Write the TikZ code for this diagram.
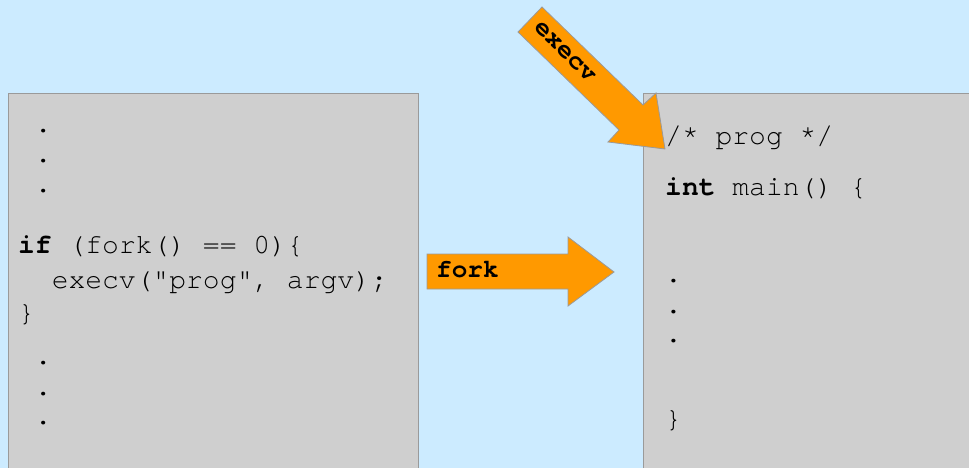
\documentclass[tikz,border=0pt]{standalone}
\usepackage{fontspec}
\setmonofont{texgyrecursor}[Extension=.otf,UprightFont=*-regular,BoldFont=*-bold]
\begin{document}
\definecolor{sky}{HTML}{CCEBFF}
\definecolor{panel}{HTML}{CFCFCF}
\definecolor{edge}{HTML}{9A9A9A}
\definecolor{arrowfill}{HTML}{FF9900}
\begin{tikzpicture}[x=1pt,y=-1pt,
  codebox/.style={fill=panel,draw=edge,line width=0.8pt},
  bigarrow/.style={fill=arrowfill,draw=edge,line width=0.8pt,line join=miter},
  code/.style={anchor=base west,inner sep=0pt,font=\ttfamily\fontsize{28}{30}\selectfont},
  tag/.style={inner sep=0pt,font=\ttfamily\bfseries\fontsize{26}{28}\selectfont}]
  \useasboundingbox (0,0) rectangle (969,468);
  \clip (0,0) rectangle (969,468);
  \fill[sky] (0,0) rectangle (969,468);

  % the two program panels
  \draw[codebox] (8,93) rectangle (418,480);
  \draw[codebox] (643,93) rectangle (980,480);

  % parent program
  \node[code] (l1) at (18,132) {\ .};
  \node[code] (l2) at (18,163) {\ .};
  \node[code] (l3) at (18,192) {\ .};
  \node[code] (l4) at (18,253) {\textbf{if} (fork() == 0)\{};
  \node[code] (l5) at (18,288) {\ \ execv("prog", argv);};
  \node[code] (l6) at (18,321) {\}};
  \node[code] (l7) at (18,364) {\ .};
  \node[code] (l8) at (18,395) {\ .};
  \node[code] (l9) at (18,424) {\ .};

  % new program
  \node[code] (r1) at (665,145) {/* prog */};
  \node[code] (r2) at (665,195) {\textbf{int} main() \{};
  \node[code] (r3) at (665,282) {.};
  \node[code] (r4) at (665,313) {.};
  \node[code] (r5) at (665,342) {.};
  \node[code] (r6) at (665,427) {\}};

  % fork arrow
  \draw[bigarrow] (427,254) -- (568,254) -- (568,237) -- (614,272)
    -- (568,306) -- (568,289) -- (427,289) -- cycle;
  \node[tag,anchor=base west] (forklbl) at (436,277) {fork};

  % execv arrow
  \draw[bigarrow] (542,7) -- (643,105) -- (656,93) -- (665,149)
    -- (608,142) -- (619,130) -- (518,32) -- cycle;
  \node[tag,rotate=-44] (execlbl) at (565,52) {execv};
\end{tikzpicture}
\end{document}
